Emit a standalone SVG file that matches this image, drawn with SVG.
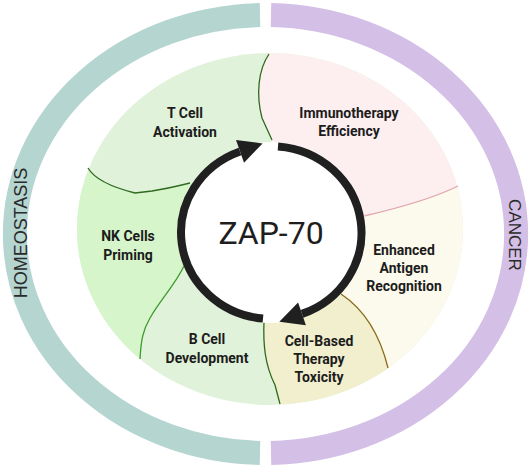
<svg xmlns="http://www.w3.org/2000/svg" width="532" height="467" viewBox="0 0 532 467">
<style>
.band{fill:none;stroke-width:24}
.bd{fill:none;stroke-width:1.3}
.lbl{font-family:Roboto,"Liberation Sans",sans-serif;font-weight:bold;font-size:14px;fill:#1c1c1c;text-anchor:middle}
.side{font-family:"Liberation Sans",Arial,sans-serif;font-size:18px;fill:#2a2a2a;text-anchor:middle}
.ring{fill:none;stroke:#202020;stroke-width:8}
</style>
<defs>
<clipPath id="disk"><ellipse cx="270" cy="229" rx="193" ry="176"/></clipPath>
</defs>
<rect width="532" height="467" fill="#ffffff"/>
<g id="homeostasis">
<path class="band" stroke="#b5d5d0" d="M260,15.06 A251,219 0 0 0 260,452.94"/>
<text class="side" transform="translate(27,233) rotate(-90)">HOMEOSTASIS</text>
</g>
<g id="cancer">
<path class="band" stroke="#d4bfe6" d="M271,15.06 A251,219 0 0 1 271,452.94"/>
<text class="side" style="font-size:17px" transform="translate(509,235) rotate(90)">CANCER</text>
</g>
<g id="segments" clip-path="url(#disk)">
<rect id="base" x="0" y="0" width="532" height="467" fill="#e0f2d9"/>
<path id="nk-fill" fill="#d6f5cb" d="M188,183 C178,186 165,189 152,191 L135,193 C115,188 95,180 88,168 L40,150 L40,390 L140,359 C141,340 143,330 150,318 C160,300 175,285 183,267 L271,232 Z"/>
<path id="immuno-fill" fill="#fdeff0" d="M271,232 L272,140 L262,118 C256,95 258,70 269,54 L269,0 L532,0 L532,170 L458,186 C430,200 390,210 365,216 Z"/>
<path id="antigen-fill" fill="#fcfaec" d="M271,232 L365,216 C390,210 430,200 458,186 L532,170 L532,467 L400,467 L388,368 C380,335 365,310 343,295 Z"/>
<path id="toxicity-fill" fill="#f1efcd" d="M271,232 L343,295 C365,310 380,335 388,368 L400,467 L282,467 L280,404 L275,385 C265,365 263,345 264,321 Z"/>
</g>
<g id="connectors">
<path class="bd" stroke="#2f6a1f" d="M269,54 C258,70 256,95 262,118 L272,140"/>
<path class="bd" stroke="#2f6a1f" d="M88,168 C95,180 115,188 135,193 L152,191 C165,189 178,186 190,183"/>
<path class="bd" stroke="#3d9a2c" d="M140,359 C141,340 143,330 150,318 C160,300 175,285 184,266"/>
<path class="bd" stroke="#2f6a1f" d="M264,321 C263,345 265,365 275,385 L280,404"/>
<path class="bd" stroke="#8a6a1c" d="M341,294 C365,310 380,335 388,368"/>
<path class="bd" stroke="#e2a6ad" d="M364,216 C390,210 430,200 458,186"/>
</g>
<g id="zap70">
<ellipse cx="271.5" cy="232.5" rx="94.5" ry="90.5" fill="#ffffff"/>
<path class="ring" d="M263,318.6 A90.5,86.5 0 0 1 240,151.4"/>
<polygon fill="#202020" points="262.6,143.4 244,162.7 236,140.1"/>
<path class="ring" d="M278,146.4 A90.5,86.5 0 0 1 302,313.9"/>
<polygon fill="#202020" points="279.3,321.7 305.9,325.3 298.1,302.5"/>
<text x="271" y="243.5" style="font-family:Roboto,'Liberation Sans',sans-serif;font-size:32px;fill:#1e1e1e;text-anchor:middle">ZAP-70</text>
</g>
<g id="t-cell"><text class="lbl"><tspan x="185" y="118">T Cell</tspan><tspan x="185" y="136.5">Activation</tspan></text></g>
<g id="immunotherapy"><text class="lbl"><tspan x="349" y="117.5">Immunotherapy</tspan><tspan x="349" y="135.5">Efficiency</tspan></text></g>
<g id="nk-cells"><text class="lbl"><tspan x="128" y="241">NK Cells</tspan><tspan x="128" y="259.5">Priming</tspan></text></g>
<g id="b-cell"><text class="lbl"><tspan x="207" y="344">B Cell</tspan><tspan x="207" y="362.5">Development</tspan></text></g>
<g id="antigen"><text class="lbl"><tspan x="404" y="255">Enhanced</tspan><tspan x="404" y="273">Antigen</tspan><tspan x="404" y="291.3">Recognition</tspan></text></g>
<g id="toxicity"><text class="lbl"><tspan x="319" y="345.7">Cell-Based</tspan><tspan x="319" y="364">Therapy</tspan><tspan x="319" y="382.3">Toxicity</tspan></text></g>
</svg>
